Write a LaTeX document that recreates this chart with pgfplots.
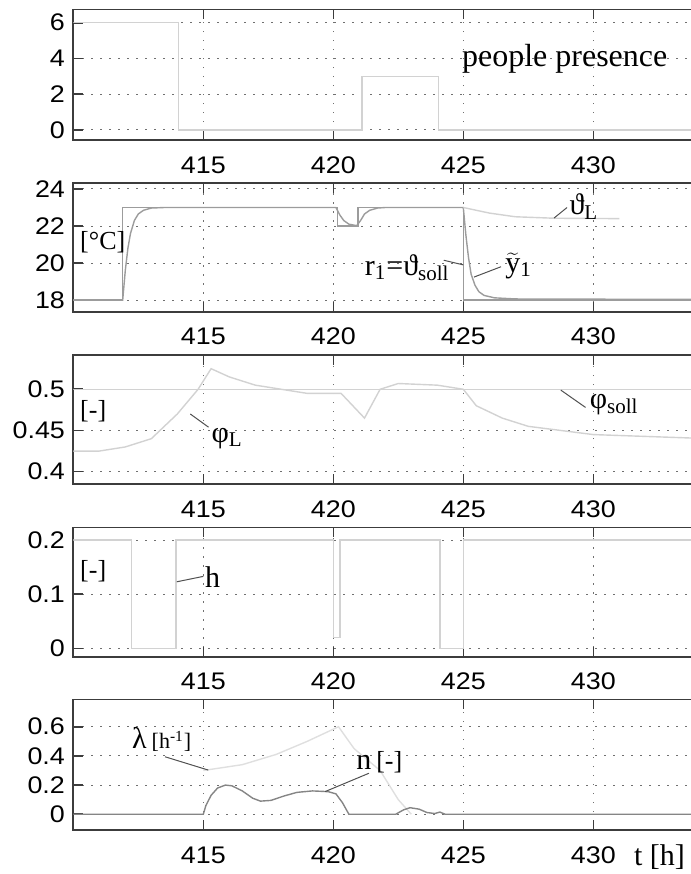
\documentclass[border=0pt]{standalone}
\usepackage{fontspec}
\setmainfont{Liberation Serif}
\newfontfamily\tickfont[FakeStretch=1.12]{Liberation Sans}
\usepackage{pgfplots}
\pgfplotsset{compat=1.18}
\definecolor{frame}{HTML}{3C3C3C}
\definecolor{curve}{HTML}{9C9C9C}
\definecolor{curvelight}{HTML}{D2D2D2}
\definecolor{gridc}{HTML}{707070}
\definecolor{lead}{HTML}{505050}

\pgfplotsset{
  panel/.style={
    scale only axis, width=318.5pt,
    xmin=410, xmax=434.5,
    xtick={415,420,425,430},
    xtick pos=both, xticklabel pos=lower, ytick pos=left,
    tick align=inside, major tick length=5pt,
    grid=major,
    major grid style={gridc, line width=0.5pt, dash pattern=on 0.7pt off 3.8pt},
    axis line style={frame, line width=0.8pt},
    tick style={frame, line width=0.8pt},
    ticklabel style={font=\tickfont\fontsize{12pt}{13pt}\selectfont, text=black},
    xticklabel style={anchor=center, inner sep=0pt, yshift=-12.5pt},
    yticklabel style={anchor=east, inner sep=0pt, xshift=-4pt},
    /pgf/number format/assume math mode=true,
    clip mode=individual,
    every axis plot/.append style={line width=0.7pt, mark=none},
  },
}
\tikzset{
  ann/.style={font=\fontsize{15pt}{17pt}\selectfont, inner sep=0pt},
  leader/.style={lead, line width=0.5pt},
}

\begin{document}
\begin{tikzpicture}
% --- people presence
\begin{axis}[panel, name=p1, at={(0pt,0pt)}, anchor=north west, height=65.35pt,
  ymin=-0.56, ymax=6.75, ytick={0,2,4,6}]
  \addplot[curvelight] coordinates {(410,6) (414.05,6) (414.05,0) (421.1,0) (421.1,3)
    (424.05,3) (424.05,0) (434.5,0)};
  \node[ann, anchor=base, font=\fontsize{16pt}{18pt}\selectfont] at (axis cs:428.9,3.54) {people presence};
\end{axis}

% --- temperatures
\begin{axis}[panel, name=p2, at={(0pt,-86.7pt)}, anchor=north west, height=64.5pt,
  ymin=17.37, ymax=24.34, ytick={18,20,22,24}]
  \addplot[curve] coordinates {(410,18) (411.9,18) (411.9,23) (420.15,23) (420.15,22)
    (420.95,22) (420.95,23) (425.0,23) (425.0,18) (434.5,18)};
  \addplot[curve] coordinates {(410,18) (411.9,18) (412.0,19.6) (412.1,20.8) (412.2,21.6)
    (412.35,22.3) (412.5,22.65) (412.7,22.85) (413.0,22.97) (413.5,23) (420.1,23)
    (420.25,22.6) (420.4,22.3) (420.6,22.1) (420.9,22.02) (421.05,22.3) (421.2,22.65)
    (421.4,22.85) (421.7,22.97) (422,23) (425.0,23) (425.1,21.5) (425.2,20.3)
    (425.3,19.4) (425.45,18.8) (425.6,18.45) (425.8,18.25) (426.2,18.12) (427,18.06)
    (434.5,18.03)};
  \addplot[curvelight] coordinates {(425,23) (426,22.7) (427,22.5) (428.5,22.42) (431,22.4)};
  \node[ann, anchor=west, font=\fontsize{13pt}{15pt}\selectfont] at (axis cs:410.25,21.1) {[°C]};
  \node[ann, anchor=west] at (axis cs:429.07,23.05) {ϑ\textsubscript{L}};
  \draw[leader] (axis cs:428.49,22.43) -- (axis cs:428.99,23.0);
  \node[ann, anchor=west] at (axis cs:421.2,19.75) {r\textsubscript{1}=ϑ\textsubscript{soll}};
  \draw[leader] (axis cs:424.25,20.15) -- (axis cs:425.0,19.9);
  \node[ann, anchor=west] at (axis cs:426.6,19.85) {$\widetilde{\mathrm{y}}_{\mathrm{1}}$};
  \draw[leader] (axis cs:425.41,19.24) -- (axis cs:426.45,19.8);
\end{axis}

% --- humidity
\begin{axis}[panel, name=p3, at={(0pt,-172.85pt)}, anchor=north west, height=64.5pt,
  ymin=0.385, ymax=0.5416, ytick={0.4,0.45,0.5}, yticklabels={0.4,0.45,0.5}]
  \addplot[curvelight] coordinates {(410,0.5) (434.5,0.5)};
  \addplot[curvelight] coordinates {(410,0.425) (411,0.425) (412,0.43) (413,0.44)
    (414,0.47) (414.8,0.5) (415.3,0.525) (416,0.515) (417,0.505) (418,0.5) (419,0.495)
    (420.3,0.495) (421.2,0.465) (421.8,0.5) (422.5,0.507) (424,0.505) (425,0.5)
    (425.5,0.48) (426.5,0.465) (427.5,0.455) (430,0.445) (434.5,0.44)};
  \node[ann, anchor=west, font=\fontsize{13pt}{15pt}\selectfont] at (axis cs:410.25,0.473) {[-]};
  \node[ann, anchor=west] at (axis cs:415.3,0.44) {φ\textsubscript{L}};
  \draw[leader] (axis cs:414.5,0.47) -- (axis cs:415.2,0.454);
  \node[ann, anchor=west] at (axis cs:429.85,0.481) {φ\textsubscript{soll}};
  \draw[leader] (axis cs:428.75,0.499) -- (axis cs:429.7,0.478);
\end{axis}

% --- h
\begin{axis}[panel, name=p4, at={(0pt,-259pt)}, anchor=north west, height=64.7pt,
  ymin=-0.015, ymax=0.2234, ytick={0,0.1,0.2}, yticklabels={0,0.1,0.2}]
  \addplot[curvelight] coordinates {(410,0.2) (412.25,0.2) (412.25,0) (413.95,0)
    (413.95,0.2) (420.0,0.2) (420.0,0.02) (420.25,0.02) (420.25,0.2) (424.1,0.2)
    (424.1,0) (425.0,0) (425.0,0.2) (434.5,0.2)};
  \node[ann, anchor=west, font=\fontsize{13pt}{15pt}\selectfont] at (axis cs:410.25,0.142) {[-]};
  \node[ann, anchor=west] at (axis cs:415.05,0.132) {h};
  \draw[leader] (axis cs:413.98,0.123) -- (axis cs:415.0,0.133);
\end{axis}

% --- lambda, n
\begin{axis}[panel, name=p5, at={(0pt,-345pt)}, anchor=north west, height=65.35pt,
  ymin=-0.108, ymax=0.788, ytick={0,0.2,0.4,0.6}, yticklabels={0,0.2,0.4,0.6}]
  \addplot[curvelight!70!white] coordinates {(415,0.3) (416.5,0.34) (417.8,0.41) (419,0.5)
    (420.2,0.6) (420.8,0.45) (421.8,0.3) (422.5,0.1) (423,0)};
  \addplot[curve!85!black] coordinates {(410,0) (415,0) (415.1,0.06) (415.3,0.13)
    (415.55,0.18) (415.85,0.2) (416.1,0.195) (416.5,0.16) (416.9,0.11) (417.2,0.09)
    (417.6,0.095) (418.1,0.125) (418.6,0.15) (419.2,0.16) (419.8,0.155) (420.1,0.14)
    (420.35,0.08) (420.6,0.0) (422.4,0) (422.7,0.03) (422.95,0.045) (423.3,0.035)
    (423.6,0.012) (423.9,0.005) (424.1,0.015) (424.3,0) (434.5,0)};
  \node[ann, anchor=west] at (axis cs:412.25,0.51)
    {λ\,{\fontsize{11pt}{13pt}\selectfont[h\textsuperscript{-1}]}};
  \draw[leader] (axis cs:413.53,0.394) -- (axis cs:415.19,0.303);
  \node[ann, anchor=west] at (axis cs:420.87,0.358) {n\,{\fontsize{13pt}{15pt}\selectfont[-]}};
  \draw[leader] (axis cs:421.37,0.281) -- (axis cs:419.68,0.155);
  \node[ann, anchor=west, font=\fontsize{15pt}{17pt}\selectfont] at (axis cs:431.55,-0.292) {t [h]};
\end{axis}

\pgfresetboundingbox
\useasboundingbox (-36.65pt,4.65pt) rectangle (308.4pt,-432.35pt);
\end{tikzpicture}
\end{document}
